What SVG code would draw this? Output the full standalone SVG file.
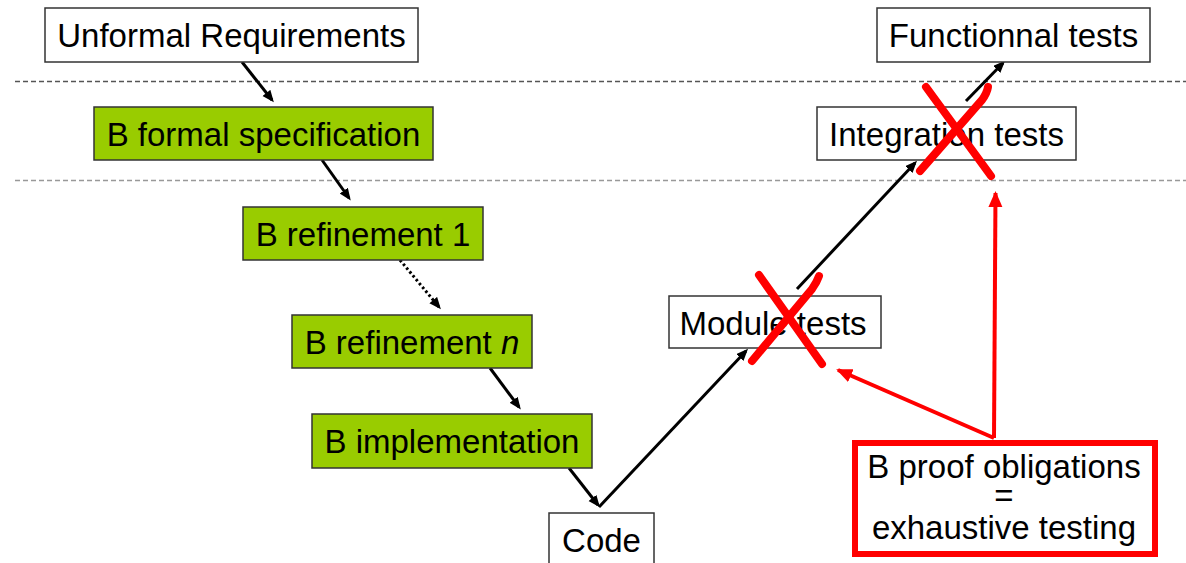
<svg xmlns="http://www.w3.org/2000/svg" width="1186" height="563" viewBox="0 0 1186 563">
  <style>
    text { font-family: "Liberation Sans", Arial, sans-serif; font-size: 33px; fill: #000; text-anchor: middle; }
    .box { fill: #fff; stroke: #333; stroke-width: 1.5; }
    .bbox { fill: #99cc00; stroke: #333; stroke-width: 1.5; }
    .proof { fill: #fff; stroke: #ff0000; stroke-width: 6; }
    .sep1 { stroke: #555; stroke-width: 1.5; stroke-dasharray: 5 3; }
    .sep2 { stroke: #999; stroke-width: 1.5; stroke-dasharray: 5 3; }
    .flow { stroke: #000; stroke-width: 3; fill: none; marker-end: url(#arrow); }
    .dotted { stroke-dasharray: 2.5 2.5; }
    .proofarrow { stroke: #ff0000; stroke-width: 4; fill: none; marker-end: url(#redarrow); }
    .cross { stroke: #ff0000; stroke-width: 8; stroke-linecap: round; fill: none; }
  </style>
  <defs>
    <marker id="arrow" markerUnits="userSpaceOnUse" markerWidth="13" markerHeight="11" refX="9" refY="5" orient="auto">
      <path d="M0,0 L12,5 L0,10 z" fill="#000"/>
    </marker>
    <marker id="redarrow" markerUnits="userSpaceOnUse" markerWidth="18" markerHeight="16" refX="14" refY="7" orient="auto">
      <path d="M0,0 L16,7 L0,14 z" fill="#ff0000"/>
    </marker>
  </defs>

  <!-- level separators -->
  <g id="separators">
    <line class="sep1" x1="15" y1="81.5" x2="1186" y2="81.5"/>
    <line class="sep2" x1="15" y1="180.5" x2="1186" y2="180.5"/>
  </g>

  <!-- connectors -->
  <g id="connectors">
    <line class="flow" x1="242" y1="62" x2="272" y2="100"/>
    <line class="flow" x1="322" y1="160" x2="349" y2="198"/>
    <line class="flow dotted" x1="400" y1="260" x2="439" y2="307"/>
    <line class="flow" x1="490" y1="368" x2="519" y2="407"/>
    <line class="flow" x1="569" y1="468" x2="598" y2="505"/>
    <line class="flow" x1="599" y1="507" x2="746" y2="351"/>
    <line class="flow" x1="797" y1="289" x2="915" y2="163"/>
    <line class="flow" x1="966" y1="101" x2="1003" y2="63"/>
    <line class="proofarrow" x1="994" y1="438" x2="995.5" y2="193"/>
    <line class="proofarrow" x1="994" y1="438" x2="838" y2="370"/>
  </g>

  <g id="unformal">
    <rect class="box" x="45" y="8" width="373" height="54"/>
    <text x="231.5" y="47">Unformal Requirements</text>
  </g>
  <g id="formal-spec">
    <rect class="bbox" x="94" y="107" width="339" height="53"/>
    <text x="263.5" y="146">B formal specification</text>
  </g>
  <g id="refinement-1">
    <rect class="bbox" x="243" y="207" width="240" height="53"/>
    <text x="363" y="246">B refinement 1</text>
  </g>
  <g id="refinement-n">
    <rect class="bbox" x="292" y="315" width="240" height="53"/>
    <text x="412" y="354">B refinement <tspan font-style="italic">n</tspan></text>
  </g>
  <g id="implementation">
    <rect class="bbox" x="312" y="414" width="280" height="54"/>
    <text x="452" y="453">B implementation</text>
  </g>
  <g id="code">
    <rect class="box" x="549" y="513" width="105" height="54"/>
    <text x="601.5" y="552">Code</text>
  </g>
  <g id="module-tests">
    <rect class="box" x="669" y="296" width="212" height="52"/>
    <text x="773" y="335">Module tests</text>
  </g>
  <g id="integration-tests">
    <rect class="box" x="817" y="107" width="259" height="53"/>
    <text x="946.5" y="146">Integration tests</text>
  </g>
  <g id="functional-tests">
    <rect class="box" x="877" y="8" width="273" height="54"/>
    <text x="1013.5" y="47">Functionnal tests</text>
  </g>
  <g id="proof-obligations">
    <rect class="proof" x="855" y="443" width="300" height="111"/>
    <text x="1004" y="478">B proof obligations</text>
    <text x="1004" y="507">=</text>
    <text x="1004" y="539">exhaustive testing</text>
  </g>

  <!-- strike-through marks on the test stages -->
  <g id="crosses">
    <line class="cross" x1="759" y1="275" x2="822" y2="364"/>
    <path class="cross" d="M819,276 Q817,282 812,289 L752,361"/>
    <line class="cross" x1="926" y1="87" x2="991" y2="176"/>
    <path class="cross" d="M988,87 Q987,93 982,100 L920,171"/>
  </g>
</svg>
